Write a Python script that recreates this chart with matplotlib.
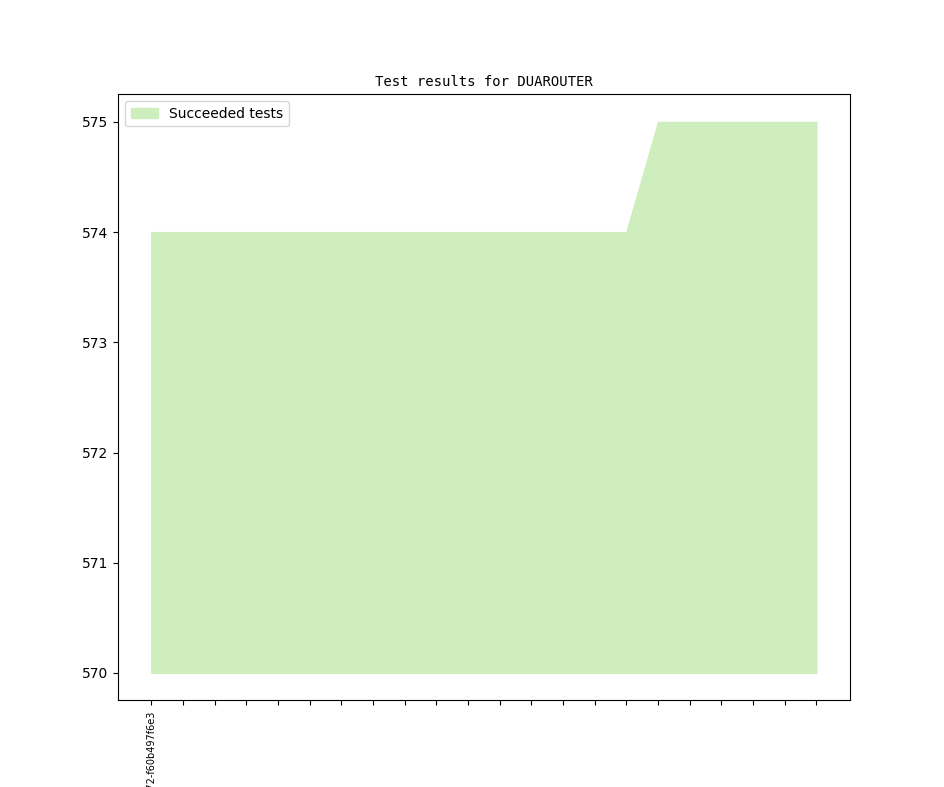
import matplotlib
matplotlib.use('Agg')
import matplotlib.pyplot as plt


# Test results per build (one entry per revision)
revisions = ['v1_5_0+0772-f60b497f6e3'] + [''] * 21
succeeded = [574] * 16 + [575] * 6
baseline = 570


fig = plt.figure(figsize=(9.44, 7.87), dpi=100)
ax = fig.add_subplot(111)

x = range(len(succeeded))
ax.fill_between(x, baseline, succeeded, facecolor='#ceeebd', edgecolor='#ceeebd',
                linewidth=1, label='Succeeded tests')

# Set up title, ticks and legend
ax.set_title('Test results for DUAROUTER', family='DejaVu Sans Mono', fontsize=10)
ax.set_xticks(list(x))
ax.set_xticklabels(revisions, rotation=90, fontsize=7)
ax.legend(loc='upper left')

fig.savefig('out.png', dpi=100)
